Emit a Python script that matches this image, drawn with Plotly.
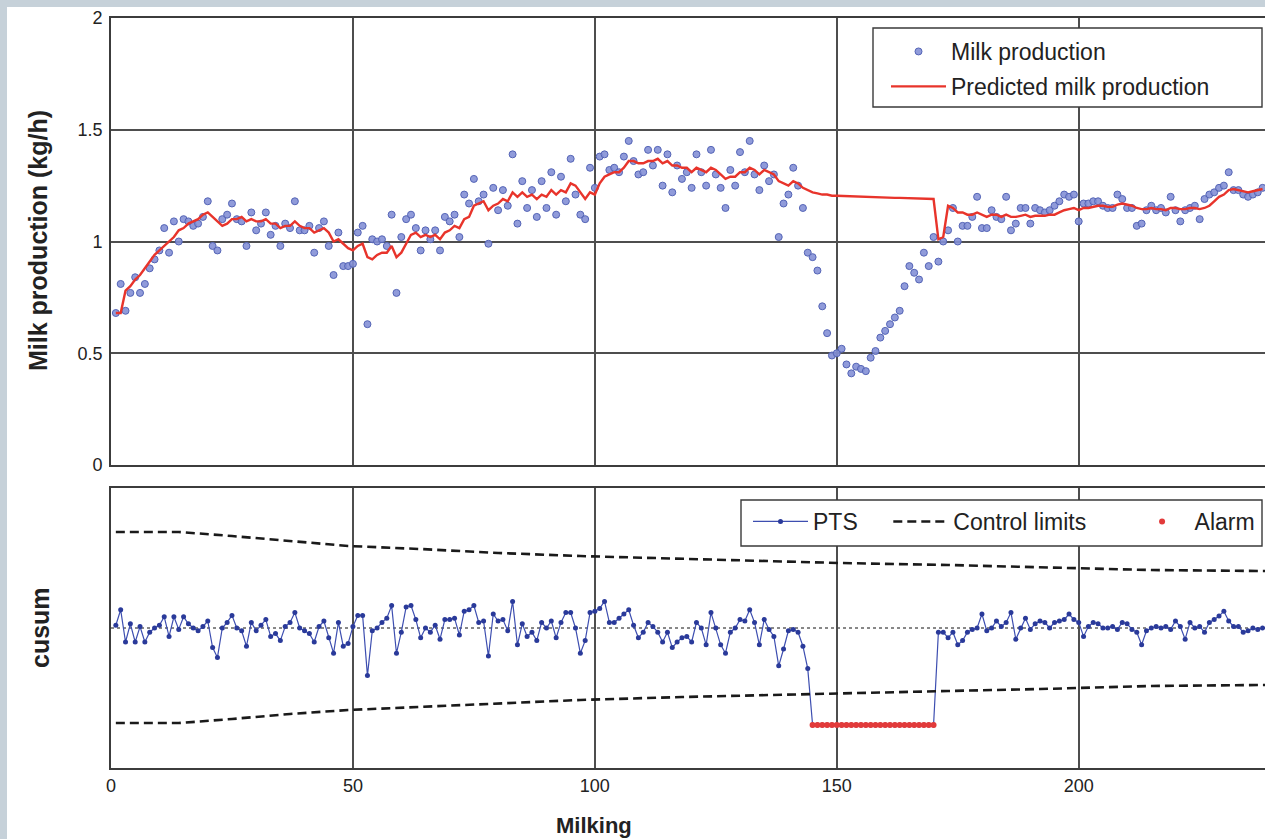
import plotly.graph_objects as go

# ---------------- data ----------------
milking = list(range(1, 239))

milk = [
    0.68, 0.81, 0.69, 0.77, 0.84, 0.77, 0.81, 0.88, 0.92, 0.96,
    1.06, 0.95, 1.09, 1.00, 1.10, 1.09, 1.07, 1.08, 1.11, 1.18,
    0.98, 0.96, 1.10, 1.12, 1.17, 1.10, 1.09, 0.98, 1.13, 1.05,
    1.08, 1.13, 1.03, 1.07, 0.98, 1.08, 1.06, 1.18, 1.05, 1.05,
    1.07, 0.95, 1.06, 1.09, 0.98, 0.85, 1.04, 0.89, 0.89, 0.90,
    1.04, 1.07, 0.63, 1.01, 1.00, 1.01, 0.98, 1.12, 0.77, 1.02,
    1.10, 1.12, 1.06, 0.96, 1.05, 1.01, 1.05, 0.96, 1.11, 1.09,
    1.12, 1.02, 1.21, 1.17, 1.28, 1.18, 1.21, 0.99, 1.24, 1.14,
    1.23, 1.16, 1.39, 1.08, 1.27, 1.15, 1.23, 1.11, 1.27, 1.15,
    1.31, 1.12, 1.29, 1.18, 1.37, 1.21, 1.12, 1.10, 1.33, 1.24,
    1.38, 1.39, 1.32, 1.33, 1.31, 1.38, 1.45, 1.36, 1.30, 1.31,
    1.41, 1.34, 1.41, 1.25, 1.39, 1.22, 1.34, 1.28, 1.31, 1.24,
    1.39, 1.31, 1.25, 1.41, 1.30, 1.24, 1.15, 1.32, 1.25, 1.40,
    1.31, 1.45, 1.30, 1.23, 1.34, 1.27, 1.30, 1.02, 1.17, 1.21,
    1.33, 1.25, 1.15, 0.95, 0.93, 0.87, 0.71, 0.59, 0.49, 0.50,
    0.52, 0.45, 0.41, 0.44, 0.43, 0.42, 0.48, 0.51, 0.57, 0.60,
    0.63, 0.66, 0.69, 0.80, 0.89, 0.86, 0.83, 0.95, 0.89, 1.02,
    0.91, 1.00, 1.05, 1.15, 1.00, 1.07, 1.07, 1.11, 1.20, 1.06,
    1.06, 1.14, 1.11, 1.10, 1.20, 1.05, 1.08, 1.15, 1.15, 1.08,
    1.15, 1.14, 1.13, 1.14, 1.16, 1.18, 1.21, 1.20, 1.21, 1.09,
    1.17, 1.17, 1.18, 1.18, 1.16, 1.15, 1.15, 1.21, 1.19, 1.15,
    1.15, 1.07, 1.08, 1.14, 1.16, 1.14, 1.15, 1.13, 1.20, 1.14,
    1.09, 1.14, 1.15, 1.16, 1.10, 1.19, 1.21, 1.22, 1.24, 1.25,
    1.31, 1.23, 1.23, 1.21, 1.20, 1.21, 1.22, 1.24,
]

predicted = [
    0.68, 0.68, 0.78, 0.80, 0.83, 0.85, 0.88, 0.91, 0.94, 0.96,
    0.98, 1.00, 1.02, 1.05, 1.06, 1.08, 1.09, 1.10, 1.12, 1.13,
    1.11, 1.09, 1.07, 1.08, 1.10, 1.10, 1.11, 1.09, 1.10, 1.09,
    1.09, 1.10, 1.08, 1.08, 1.06, 1.07, 1.07, 1.09, 1.07, 1.06,
    1.06, 1.04, 1.05, 1.06, 1.04, 1.00, 1.01, 0.99, 0.97, 0.96,
    0.98, 0.99, 0.93, 0.92, 0.94, 0.95, 0.95, 0.98, 0.93, 0.95,
    0.99, 1.03, 1.04, 1.02, 1.03, 1.02, 1.03, 1.01, 1.04, 1.05,
    1.07, 1.06, 1.10, 1.11, 1.16, 1.17, 1.18, 1.14, 1.16, 1.17,
    1.19, 1.18, 1.22, 1.20, 1.22, 1.20, 1.21, 1.19, 1.21, 1.20,
    1.23, 1.21, 1.23, 1.22, 1.26, 1.25, 1.22, 1.19, 1.22, 1.21,
    1.26, 1.29, 1.30, 1.31, 1.31, 1.33, 1.36, 1.36, 1.35, 1.35,
    1.36, 1.36, 1.37, 1.35, 1.36, 1.34, 1.34, 1.33, 1.33, 1.31,
    1.33, 1.32, 1.31, 1.33, 1.32, 1.30, 1.28, 1.29, 1.29, 1.31,
    1.31, 1.33, 1.32, 1.30, 1.32, 1.31, 1.30, 1.27, 1.26, 1.25,
    1.27, 1.26, 1.24, 1.23, 1.22, 1.215, 1.21, 1.21, 1.205, 1.205,
    1.204, 1.203, 1.202, 1.202, 1.201, 1.200, 1.200, 1.199, 1.198, 1.197,
    1.196, 1.195, 1.195, 1.194, 1.193, 1.192, 1.192, 1.191, 1.190, 1.190,
    1.01, 1.02, 1.16, 1.15, 1.13, 1.13, 1.12, 1.12, 1.13, 1.12,
    1.11, 1.12, 1.12, 1.11, 1.12, 1.11, 1.11, 1.115, 1.12, 1.11,
    1.115, 1.115, 1.115, 1.12, 1.12, 1.13, 1.14, 1.145, 1.15, 1.14,
    1.15, 1.15, 1.155, 1.16, 1.16, 1.155, 1.155, 1.165, 1.17, 1.165,
    1.16, 1.15, 1.145, 1.145, 1.15, 1.145, 1.145, 1.14, 1.15, 1.15,
    1.145, 1.145, 1.15, 1.15, 1.145, 1.15, 1.16, 1.18, 1.20, 1.21,
    1.23, 1.235, 1.23, 1.225, 1.22, 1.225, 1.23, 1.235,
]

pts = [
    0.02, 0.13, -0.10, 0.03, -0.10, 0.01, -0.10, -0.03, 0.00, 0.02,
    0.08, -0.06, 0.08, -0.01, 0.08, 0.03, 0.00, -0.02, 0.01, 0.05,
    -0.14, -0.21, 0.00, 0.04, 0.09, 0.00, -0.02, -0.13, 0.04, -0.02,
    0.02, 0.06, -0.06, -0.04, -0.09, 0.01, 0.04, 0.11, 0.00, -0.02,
    -0.04, -0.10, 0.01, 0.05, -0.07, -0.18, 0.04, -0.13, -0.11, 0.01,
    0.09, 0.09, -0.34, -0.02, 0.00, 0.04, 0.07, 0.16, -0.18, -0.03,
    0.15, 0.16, 0.06, -0.07, 0.00, -0.03, 0.02, -0.08, 0.06, 0.06,
    0.07, -0.05, 0.12, 0.13, 0.16, 0.04, 0.05, -0.20, 0.10, 0.05,
    0.06, -0.02, 0.19, -0.12, 0.03, -0.06, -0.03, -0.09, 0.04, 0.00,
    0.05, -0.07, 0.04, 0.11, 0.11, 0.00, -0.18, -0.09, 0.11, 0.12,
    0.14, 0.19, 0.04, 0.04, 0.07, 0.10, 0.13, 0.02, -0.07, -0.03,
    0.04, 0.01, -0.03, -0.10, -0.03, -0.14, -0.10, -0.07, -0.06, -0.10,
    0.04, 0.00, -0.12, 0.11, 0.00, -0.12, -0.18, -0.03, 0.00, 0.06,
    0.05, 0.13, 0.04, -0.12, 0.06, -0.01, -0.06, -0.27, -0.15, -0.02,
    -0.01, -0.03, -0.13, -0.29, -0.693, -0.693, -0.693, -0.693, -0.693, -0.693,
    -0.693, -0.693, -0.693, -0.693, -0.693, -0.693, -0.693, -0.693, -0.693, -0.693,
    -0.693, -0.693, -0.693, -0.693, -0.693, -0.693, -0.693, -0.693, -0.693, -0.693,
    -0.03, -0.03, -0.07, -0.03, -0.12, -0.09, -0.03, -0.01, 0.00, 0.10,
    -0.02, 0.00, 0.05, 0.01, 0.04, 0.11, -0.08, 0.00, 0.07, -0.01,
    0.03, 0.05, 0.04, 0.00, 0.04, 0.05, 0.06, 0.10, 0.06, 0.04,
    -0.06, 0.01, 0.04, 0.03, 0.00, 0.00, 0.01, -0.01, 0.04, 0.03,
    -0.01, -0.03, -0.12, -0.02, 0.00, 0.01, 0.00, 0.01, -0.01, 0.05,
    0.01, -0.08, 0.04, 0.00, 0.01, -0.03, 0.04, 0.06, 0.085, 0.12,
    0.05, 0.01, 0.01, -0.03, -0.02, 0.00, -0.01, 0.00,
]

limit_milking = [1, 14, 25, 37, 49, 64, 80, 97, 118, 134, 151, 173, 192, 215, 238.5]
upper_limit = [0.686, 0.686, 0.657, 0.621, 0.586, 0.564, 0.536, 0.514, 0.493, 0.479,
               0.464, 0.450, 0.436, 0.414, 0.407]
lower_limit = [-0.679, -0.679, -0.650, -0.614, -0.586, -0.564, -0.536, -0.514, -0.493, -0.479,
               -0.464, -0.450, -0.436, -0.414, -0.407]

alarm_first, alarm_last = 145, 170
alarm_x = [m for m in milking if alarm_first <= m <= alarm_last]
alarm_y = [pts[m - 1] for m in alarm_x]

x_ticks = [0, 50, 100, 150, 200]
y_ticks = [0, 0.5, 1, 1.5, 2]
y_tick_text = ["0", "0.5", "1", "1.5", "2"]

# ---------------- layout helpers ----------------
W, H = 1265, 839
ML, MR, MT, MB = 111, 0, 18, 71
PW = W - ML - MR
PH = H - MT - MB


def px_x(px):
    return (px - ML) / PW


def px_y(py):
    return (H - MB - py) / PH


FONT = "Liberation Sans, Arial, Helvetica, sans-serif"
GRID = "#4e4e4e"
AXIS = "#3c3c3c"
XMAX = 238.5
NB = "\u00a0"

fig = go.Figure()

fig.add_trace(go.Scatter(
    x=milking, y=milk, mode="markers", name="Milk production",
    marker=dict(size=7, color="rgba(132,144,214,0.9)", line=dict(color="#5464b6", width=1)),
    xaxis="x", yaxis="y", legend="legend", legendgroup="a"))
fig.add_trace(go.Scatter(
    x=milking, y=predicted, mode="lines", name="Predicted milk production",
    line=dict(color="#e8342b", width=2.4),
    xaxis="x", yaxis="y", legend="legend", legendgroup="b"))

fig.add_trace(go.Scatter(
    x=milking, y=pts, mode="lines+markers", name="PTS" + NB * 4,
    line=dict(color="#3d4eb0", width=1.2),
    marker=dict(size=5, color="#2a3a9a"),
    xaxis="x2", yaxis="y2", legend="legend2"))
fig.add_trace(go.Scatter(
    x=limit_milking, y=upper_limit, mode="lines", name="Control limits" + NB * 6,
    line=dict(color="#1a1a1a", width=2.6, dash="9px,5px"),
    xaxis="x2", yaxis="y2", legend="legend2"))
fig.add_trace(go.Scatter(
    x=limit_milking, y=lower_limit, mode="lines", name="Control limits",
    line=dict(color="#1a1a1a", width=2.6, dash="9px,5px"), showlegend=False,
    xaxis="x2", yaxis="y2", legend="legend2"))
fig.add_trace(go.Scatter(
    x=alarm_x, y=alarm_y, mode="markers", name="Alarm",
    marker=dict(size=6, color="#e23a3a", symbol="circle"),
    xaxis="x2", yaxis="y2", legend="legend2"))

top_dom = [px_y(465), 1.0]
bot_dom = [0.0, px_y(488)]

axis_common = dict(showline=True, linecolor=AXIS, linewidth=1.6, zeroline=False,
                   ticks="", tickfont=dict(family=FONT, size=18, color="#222"))

fig.update_layout(
    width=W, height=H,
    margin=dict(l=ML, r=MR, t=MT, b=MB, pad=0),
    paper_bgcolor="#c6d1d9", plot_bgcolor="white",
    font=dict(family=FONT, color="#222"),
    xaxis=dict(domain=[0, 1], anchor="y", range=[0, XMAX], tickvals=x_ticks,
               showticklabels=False, showgrid=True, gridcolor=GRID, gridwidth=1.6,
               mirror=True, **axis_common),
    yaxis=dict(domain=top_dom, anchor="x", range=[0, 2], tickvals=y_ticks, ticktext=y_tick_text,
               showgrid=True, gridcolor=GRID, gridwidth=1.6, mirror=False,
               ticklabelstandoff=3, **axis_common),
    xaxis2=dict(domain=[0, 1], anchor="y2", range=[0, XMAX], tickvals=x_ticks,
                showgrid=True, gridcolor=GRID, gridwidth=1.6, mirror=True,
                ticklabelstandoff=1, **axis_common),
    yaxis2=dict(domain=bot_dom, anchor="x2", range=[-1, 1], showticklabels=False,
                showgrid=False, mirror=False, **axis_common),
    legend=dict(x=px_x(886), y=px_y(30), xanchor="left", yanchor="top",
                bgcolor="rgba(0,0,0,0)", borderwidth=0, itemwidth=55,
                tracegroupgap=2, font=dict(family=FONT, size=23, color="#222")),
    legend2=dict(orientation="h", x=px_x(748), y=px_y(500), xanchor="left", yanchor="top",
                 bgcolor="rgba(0,0,0,0)", borderwidth=0, itemwidth=55,
                 entrywidth=0, entrywidthmode="pixels",
                 font=dict(family=FONT, size=23, color="#222")),
    showlegend=True,
)

shapes = [
    # white figure panel over the grey-blue page border
    dict(type="rect", xref="paper", yref="paper", x0=px_x(7), x1=1.05, y0=px_y(850), y1=px_y(7),
         fillcolor="white", line=dict(width=0), layer="below"),
    # dotted zero line in cusum panel
    dict(type="line", xref="x2 domain", yref="y2", x0=0, x1=1, y0=0, y1=0,
         line=dict(color="#111", width=1, dash="dot"), layer="below"),
    # legend boxes
    dict(type="rect", xref="paper", yref="paper", x0=px_x(873), x1=px_x(1262),
         y0=px_y(107), y1=px_y(28), fillcolor="white", line=dict(color="#3a3a3a", width=1.4),
         layer="above"),
    dict(type="rect", xref="paper", yref="paper", x0=px_x(741), x1=px_x(1262),
         y0=px_y(546), y1=px_y(500), fillcolor="white", line=dict(color="#3a3a3a", width=1.4),
         layer="above"),
]
fig.update_layout(shapes=shapes)

annotations = [
    dict(text="<b>Milk production (kg/h)</b>", xref="paper", yref="paper",
         x=px_x(38), y=px_y(241), textangle=-90, showarrow=False,
         font=dict(family=FONT, size=25, color="#222"), xanchor="center", yanchor="middle"),
    dict(text="<b>cusum</b>", xref="paper", yref="paper",
         x=px_x(40), y=px_y(628), textangle=-90, showarrow=False,
         font=dict(family=FONT, size=25, color="#222"), xanchor="center", yanchor="middle"),
    dict(text="<b>Milking</b>", xref="paper", yref="paper",
         x=px_x(594), y=px_y(825), showarrow=False,
         font=dict(family=FONT, size=22, color="#222"), xanchor="center", yanchor="middle"),
]
fig.update_layout(annotations=annotations)

fig.write_html("out.html")
